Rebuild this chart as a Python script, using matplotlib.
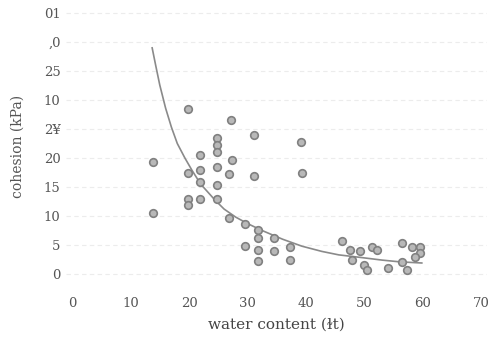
import numpy as np
import matplotlib
matplotlib.use("Agg")
import matplotlib.pyplot as plt

# scatter points
water = [19.9, 27.2, 31.1, 39.2, 24.8, 24.8, 24.8, 13.8, 21.9, 27.4,
         19.8, 21.9, 24.8, 26.8, 31.1, 39.3, 21.9, 24.8, 19.8, 19.8,
         21.9, 24.8, 13.8, 26.8, 29.6, 31.8, 31.8, 29.6, 31.8, 34.5,
         34.5, 31.8, 37.3, 37.3, 46.2, 47.6, 49.3, 51.3, 52.1, 47.9,
         49.9, 50.4, 54.1, 56.4, 58.1, 59.5, 59.5, 56.4, 57.3, 58.6]
cohesion = [28.4, 26.6, 23.9, 22.8, 23.4, 22.2, 21.0, 19.4, 20.5, 19.7,
            17.5, 17.9, 18.5, 17.3, 16.9, 17.5, 15.9, 15.3, 13.0, 11.9,
            13.0, 13.0, 10.6, 9.6, 8.7, 7.6, 6.2, 4.8, 4.1, 6.2,
            4.0, 2.3, 4.7, 2.5, 5.7, 4.1, 4.0, 4.7, 4.1, 2.4,
            1.6, 0.7, 1.0, 5.3, 4.7, 4.7, 3.6, 2.1, 0.7, 3.0]

# trend curve
curve_x = [13.7, 14.3, 15, 16, 17, 18, 19.3, 20.5, 22, 24.4, 26, 28, 30,
           32.5, 36, 39.3, 42.7, 45.6, 49, 53, 56, 59.8]
curve_y = [39.0, 36.0, 32.6, 28.6, 25.3, 22.5, 20.0, 17.9, 15.5, 12.8, 11.2, 9.8, 8.7,
           7.5, 6.0, 4.8, 3.9, 3.3, 2.9, 2.4, 2.1, 1.9]

x_ticks = [0, 10, 20, 30, 40, 50, 60, 70]
y_ticks = [0, 5, 10, 15, 20, 25, 30, 35, 40, 45]
y_ticklabels = ['0', '5', '10', '15', '20', '2\u00a5', '10', '25', ',0', '01']

plt.rcParams['font.family'] = 'DejaVu Serif'

fig = plt.figure(figsize=(4.99, 3.51), dpi=100)
ax = fig.add_axes([0.1326, 0.1863, 0.844, 0.793])

for yv in y_ticks:
    ax.axhline(yv, color='#ececec', lw=0.8, ls=(0, (4, 3)), zorder=0)

ax.plot(curve_x, curve_y, color='#8a8a8a', lw=1.2, zorder=2)
ax.scatter(water, cohesion, s=30, facecolor='#b8b8b8', edgecolor='#808080',
           linewidths=1.2, zorder=3)

ax.set_xlim(-1, 71)
ax.set_ylim(-2, 46)
ax.set_xticks(x_ticks)
ax.set_yticks(y_ticks)
ax.set_yticklabels(y_ticklabels)
ax.tick_params(length=0, labelsize=9.5, labelcolor='#555555')
ax.tick_params(axis='x', pad=8)
ax.tick_params(axis='y', pad=4)
for s in ax.spines.values():
    s.set_visible(False)

ax.set_xlabel('water content (\u026bt)', fontsize=11, color='#444444', labelpad=6)
ax.set_ylabel('cohesion (kPa)', fontsize=10, color='#555555', labelpad=14)

fig.savefig('out.png', dpi=100, facecolor='white')
